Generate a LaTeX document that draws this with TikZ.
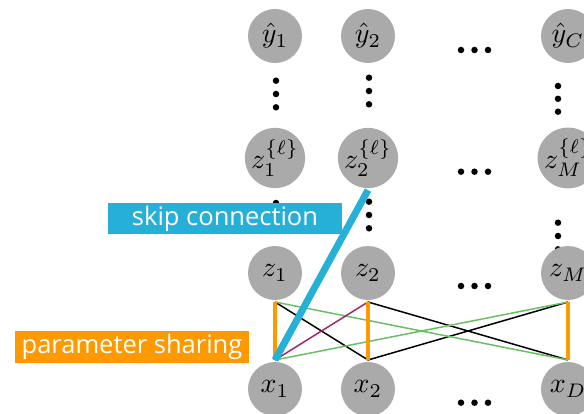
\documentclass[tikz,border=0pt]{standalone}
\usepackage{graphicx}
\usepackage{fontspec}
\newfontfamily\boxfont{Open Sans}
\newcommand{\mlbl}[1]{\scalebox{2.8}{$#1$}}
\definecolor{nodegray}{RGB}{170,170,170}
\definecolor{skipblue}{RGB}{38,176,216}
\definecolor{shareorange}{RGB}{255,153,0}
\definecolor{lgreen}{RGB}{104,192,98}
\definecolor{plum}{RGB}{163,38,107}
\begin{document}
\begin{tikzpicture}[x=1pt,y=-1pt,
  unit/.style={circle,fill=nodegray,minimum size=54pt,inner sep=0pt,outer sep=2pt},
  dotmark/.style={circle,fill=black,inner sep=0pt,minimum size=6.5pt},
  thin/.style={line width=1.5pt},
  share/.style={shareorange,line width=4.5pt},
  skip/.style={skipblue,line width=7pt},
  tag/.style={inner sep=0pt,minimum width=234pt,minimum height=31.5pt,text=white,
    font=\boxfont\fontsize{25.5}{29}\selectfont}]
\useasboundingbox (0,0) rectangle (584,414);
% vertical dots
\foreach \x/\a/\b/\c [count=\i] in {276/80.7/94/107.3, 369/77.7/91/104.3, 558/86/98.8/111.7,
   276/203/216.3/229.6, 369/201.7/215/228.3, 558/222.7/236/249.3}
  {\node[dotmark] (vd\i a) at (\x,\a) {};
   \node[dotmark] (vd\i b) at (\x,\b) {};
   \node[dotmark] (vd\i c) at (\x,\c) {};}
% horizontal dots
\foreach \y [count=\i] in {50,171.7,286,402.7}
  {\node[dotmark] (hd\i a) at (461,\y) {};
   \node[dotmark] (hd\i b) at (474.5,\y) {};
   \node[dotmark] (hd\i c) at (488,\y) {};}
% nodes
\node[unit] (y1) at (275,36) {\mlbl{\hat{y}_1}};
\node[unit] (y2) at (368,36) {\mlbl{\hat{y}_2}};
\node[unit] (yC) at (568,36) {\mlbl{\hat{y}_C}};
\node[unit] (l1) at (275,158) {\mlbl{z_1^{\{\ell\}}}};
\node[unit] (l2) at (368,158) {\mlbl{z_2^{\{\ell\}}}};
\node[unit] (lM) at (568,158) {\mlbl{z_M^{\{\ell\}}}};
\node[unit] (z1) at (275,273) {\mlbl{z_1}};
\node[unit] (z2) at (368,273) {\mlbl{z_2}};
\node[unit] (zM) at (568,273) {\mlbl{z_M}};
\node[unit] (x1) at (275,389) {\mlbl{x_1}};
\node[unit] (x2) at (368,389) {\mlbl{x_2}};
\node[unit] (xD) at (568,389) {\mlbl{x_D}};
% connections
\draw[thin,black] (z1.south) -- (x2.north);
\draw[thin,black] (z2.south) -- (xD.north);
\draw[thin,black] (x2.north) -- (zM.south);
\draw[thin,lgreen] (z1.south) -- (xD.north);
\draw[thin,lgreen] (x1.north) -- (zM.south);
\draw[thin,plum] (x1.north) -- (z2.south);
\draw[share] (z1.south) -- (x1.north);
\draw[share] (z2.south) -- (x2.north);
\draw[share] (zM.south) -- (xD.north);
% labels
\node[tag,fill=skipblue] (skiplabel) at (225,218.5) {skip connection};
\node[tag,fill=shareorange] (sharelabel) at (132,347) {parameter sharing};
\draw[skip] (x1.north) -- (l2.south);
\end{tikzpicture}
\end{document}
